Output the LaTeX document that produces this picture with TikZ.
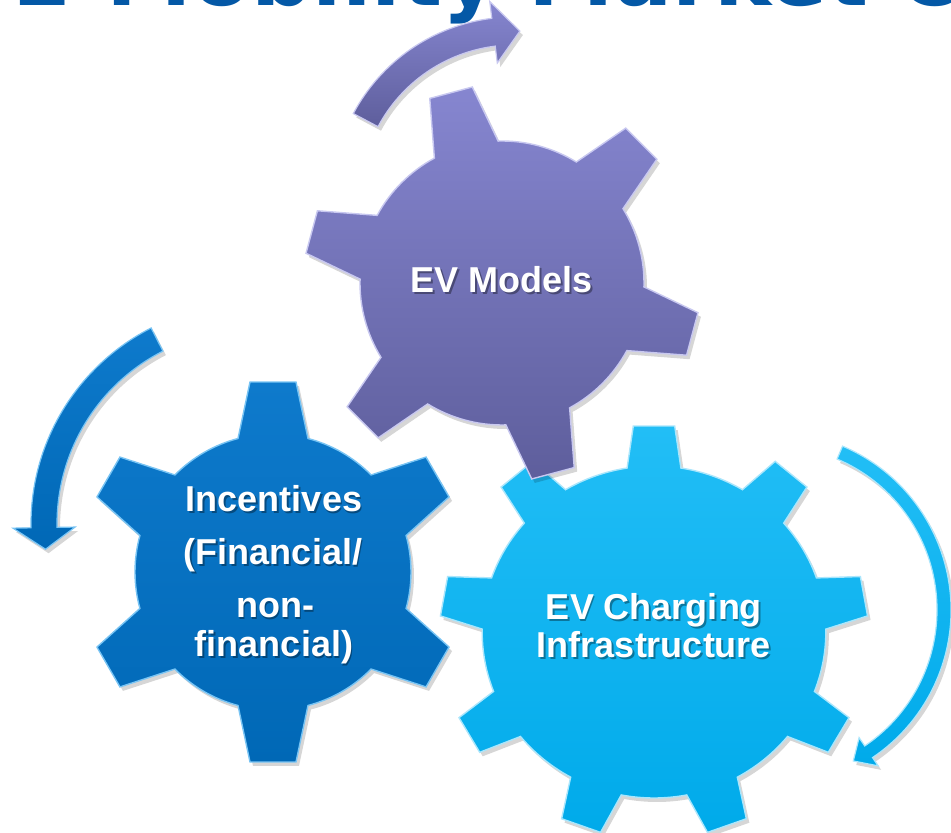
\documentclass[tikz,border=0pt]{standalone}
\usepackage{fontspec}
\setmainfont{Liberation Sans}
\newfontfamily\titlefont{DejaVu Sans}
\definecolor{gPtop}{RGB}{134,134,208}
\definecolor{gPbot}{RGB}{94,94,156}
\definecolor{gPedge}{RGB}{200,200,240}
\definecolor{gBtop}{RGB}{14,122,204}
\definecolor{gBbot}{RGB}{0,104,182}
\definecolor{gBedge}{RGB}{120,196,244}
\definecolor{gCtop}{RGB}{34,190,246}
\definecolor{gCbot}{RGB}{0,170,234}
\definecolor{gCedge}{RGB}{170,230,252}
\definecolor{titleblue}{RGB}{4,88,166}
\tikzset{
  gearshadow/.style={fill=black,opacity=0.16},
  gearP/.style={top color=gPtop,bottom color=gPbot,draw=gPedge,line width=1.4pt},
  gearB/.style={top color=gBtop,bottom color=gBbot,draw=gBedge,line width=1.4pt},
  gearC/.style={top color=gCtop,bottom color=gCbot,draw=gCedge,line width=1.4pt},
  arrP/.style={top color=gPtop,bottom color=gPbot,draw=gPedge,line width=1.2pt},
  arrB/.style={top color=gBtop,bottom color=gBbot,draw=gBedge,line width=1.2pt},
  arrC/.style={top color=gCtop,bottom color=gCbot,draw=gCedge,line width=1.2pt},
  gtext/.style={text=white,font=\bfseries\fontsize{36}{40}\selectfont,anchor=base,inner sep=0pt},
  gtshadow/.style={text=black,opacity=0.35,font=\bfseries\fontsize{36}{40}\selectfont,anchor=base,inner sep=0pt},
  titletext/.style={text=titleblue,font=\titlefont\bfseries\fontsize{86}{90}\selectfont,anchor=base west,inner sep=0pt}
}
% #1 style, #2 cx, #3 cy, #4 N, #5 a0, #6 R, #7 Rt, #8 wb, #9 wt
\newcommand{\drawgear}[9]{%
  \pgfmathsetmacro\gdb{asin(#8/#6)}%
  \pgfmathsetmacro\gdt{atan(#9/#7)}%
  \pgfmathsetmacro\grt{#7/cos(\gdt)}%
  \pgfmathsetmacro\gst{360/#4}%
  \pgfmathtruncatemacro\gn{#4-1}%
  \begin{scope}[shift={(#2+3,#3-4)},xscale=\gxs]
    \path[gearshadow] (#5-\gdb:#6) \foreach \k in {0,...,\gn} {
      -- (#5+\gst*\k-\gdb:#6) -- (#5+\gst*\k-\gdt:\grt) -- (#5+\gst*\k+\gdt:\grt) -- (#5+\gst*\k+\gdb:#6)
      arc[start angle={#5+\gst*\k+\gdb}, end angle={#5+\gst*(\k+1)-\gdb}, radius=#6] } -- cycle;
  \end{scope}
  \begin{scope}[shift={(#2,#3)},xscale=\gxs]
    \path[#1] (#5-\gdb:#6) \foreach \k in {0,...,\gn} {
      -- (#5+\gst*\k-\gdb:#6) -- (#5+\gst*\k-\gdt:\grt) -- (#5+\gst*\k+\gdt:\grt) -- (#5+\gst*\k+\gdb:#6)
      arc[start angle={#5+\gst*\k+\gdb}, end angle={#5+\gst*(\k+1)-\gdb}, radius=#6] } -- cycle;
  \end{scope}
}
% #1 style, #2 cx, #3 cy, #4 r, #5 start, #6 head base, #7 tip, #8 half shaft, #9 half head
\newcommand{\circarrow}[9]{%
  \pgfmathsetmacro\ao{#4+#8}%
  \pgfmathsetmacro\ai{#4-#8}%
  \pgfmathsetmacro\ho{#4+#9}%
  \pgfmathsetmacro\hi{#4-#9}%
  \begin{scope}[shift={(#2+3,#3-4)}]
    \path[gearshadow] (#5:\ao) arc[start angle=#5, end angle=#6, radius=\ao] -- (#6:\ho) -- (#7:#4)
      -- (#6:\hi) -- (#6:\ai) arc[start angle=#6, end angle=#5, radius=\ai] -- cycle;
  \end{scope}
  \begin{scope}[shift={(#2,#3)}]
    \path[#1] (#5:\ao) arc[start angle=#5, end angle=#6, radius=\ao] -- (#6:\ho) -- (#7:#4)
      -- (#6:\hi) -- (#6:\ai) arc[start angle=#6, end angle=#5, radius=\ai] -- cycle;
  \end{scope}
}
\begin{document}
\begin{tikzpicture}[x=1pt,y=1pt,line join=miter]
\useasboundingbox (0,0) rectangle (951,833);
\fill[white] (0,0) rectangle (951,833);
% title (cut by the top edge)
\begin{scope}
  \clip (0,0) rectangle (951,833);
  \node[titletext] (title) at (12,827) {E-Mobility Market O};
\end{scope}
% circular arrows
\circarrow{arrP}{514}{634}{168}{152}{97}{88}{14}{31}
\circarrow{arrB}{251}{309}{207}{117}{181}{187}{13}{31}
\circarrow{arrC}{773}{223}{171}{67}{-56}{-62}{7}{17}
% gears
\def\gxs{1}
\drawgear{gearB}{273}{261}{6}{90}{138}{190}{35}{23}
\def\gxs{1.035}
\drawgear{gearC}{654}{201}{9}{90}{166}{206}{26}{20}
\def\gxs{1}
\drawgear{gearP}{502}{550}{6}{105}{142}{197}{33}{22}
% texts
\node[gtshadow] at (503.5,538.5) {EV Models};
\node[gtext] (evm) at (502,540) {EV Models};
\node[gtshadow] at (275.5,319.5) {Incentives};
\node[gtext] (inc1) at (274,321) {Incentives};
\node[gtshadow] at (274.5,266.5) {(Financial/};
\node[gtext] (inc2) at (273,268) {(Financial/};
\node[gtshadow] at (276.5,213.5) {non-};
\node[gtext] (inc3) at (275,215) {non-};
\node[gtshadow] at (275.5,174.5) {financial)};
\node[gtext] (inc4) at (274,176) {financial)};
\node[gtshadow] at (655.5,211.5) {EV Charging};
\node[gtext] (evc1) at (654,213) {EV Charging};
\node[gtshadow] at (655.5,173.5) {Infrastructure};
\node[gtext] (evc2) at (654,175) {Infrastructure};
\end{tikzpicture}
\end{document}
